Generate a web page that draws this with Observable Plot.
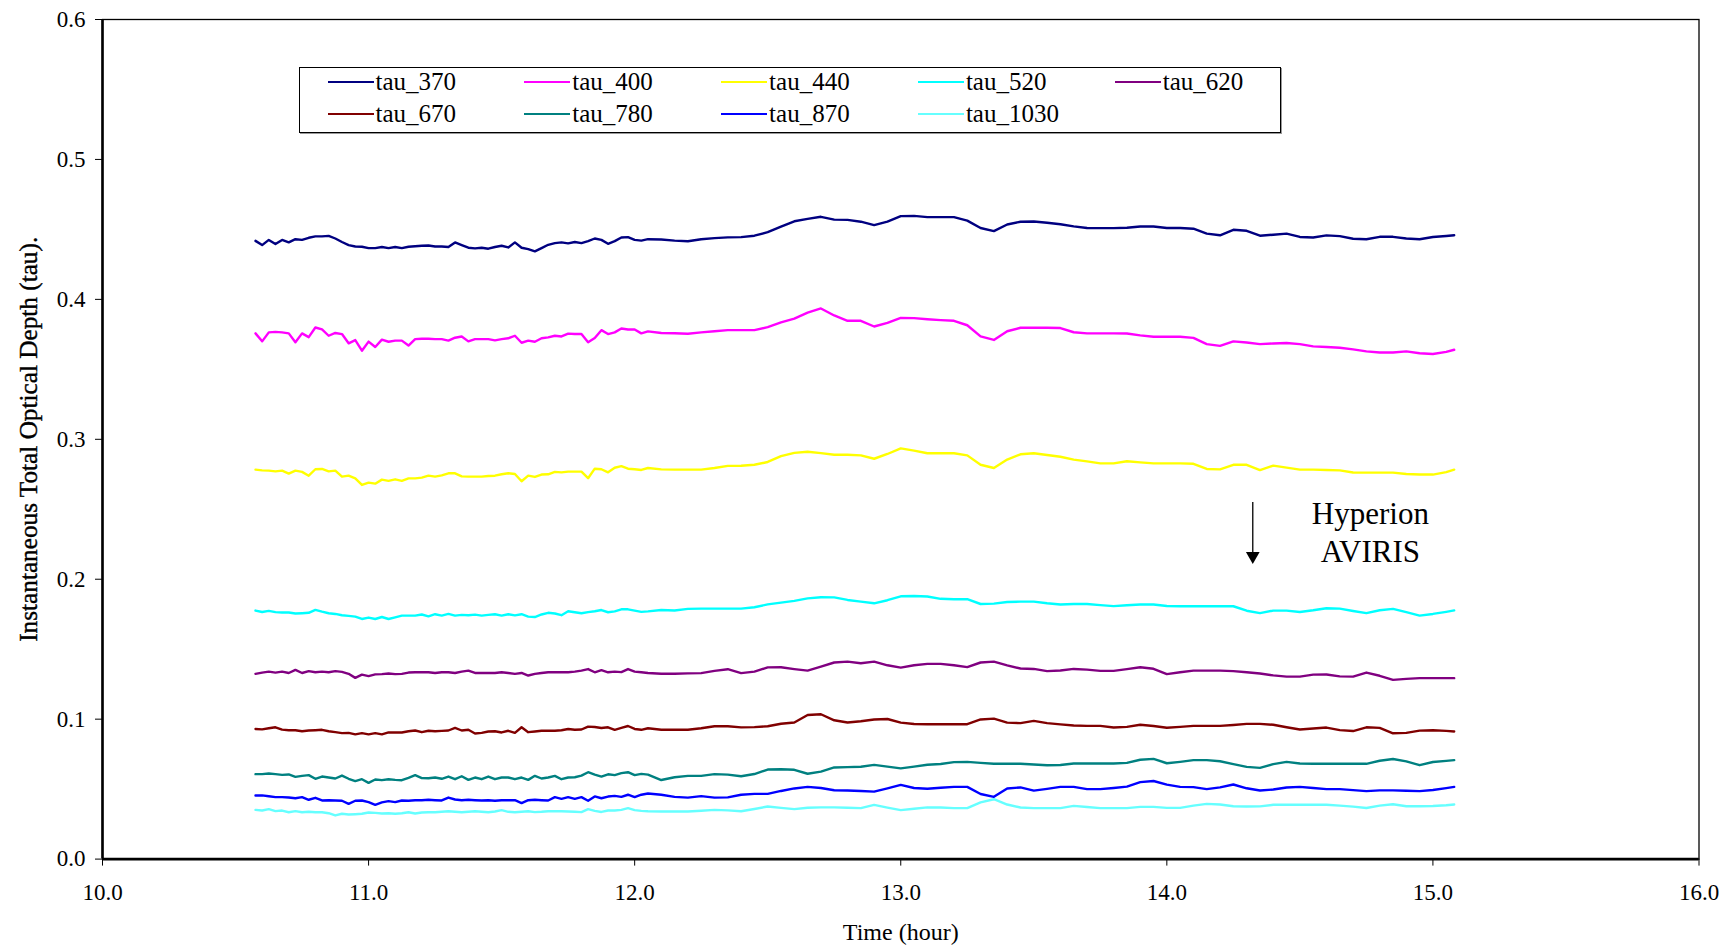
<!DOCTYPE html>
<html><head><meta charset="utf-8">
<script src="https://cdn.jsdelivr.net/npm/d3@7"></script>
<script src="https://cdn.jsdelivr.net/npm/@observablehq/plot@0.6"></script>
<style>
body{margin:0;background:#fff;}
#wrap{position:relative;width:1735px;height:948px;overflow:hidden;}
#legend{position:absolute;left:299px;top:67px;width:980px;height:64px;border:1px solid #000;box-shadow:1px 1px 0 #999;background:#fff;font-family:"Liberation Serif";font-size:25px;color:#000;}
.item{position:absolute;display:flex;align-items:center;height:30px;white-space:nowrap;}
.sw{width:46px;height:2px;margin-right:2px;}
</style></head><body>
<div id="wrap"><div id="chart"></div><div id="legend"></div></div>
<script>
// ---------- data ----------
const tNoisy = [10.575,10.600,10.625,10.650,10.675,10.700,10.725,10.750,10.775,10.800,10.825,10.850,10.875,10.900,10.925,10.950,10.975,11.000,11.025,11.050,11.075,11.100,11.125,11.150,11.175,11.200,11.225,11.250,11.275,11.300,11.325,11.350,11.375,11.400,11.425,11.450,11.475,11.500,11.525,11.550,11.575,11.600,11.625,11.650,11.675,11.700,11.725,11.750,11.775,11.800,11.825,11.850,11.875,11.900,11.925,11.950,11.975,12.000,12.025,12.050];
const tSmooth = [12.10,12.15,12.20,12.25,12.30,12.35,12.40,12.45,12.50,12.55,12.60,12.65,12.70,12.75,12.80,12.85,12.90,12.95,13.00,13.05,13.10,13.15,13.20,13.25,13.30,13.35,13.40,13.45,13.50,13.55,13.60,13.65,13.70,13.75,13.80,13.85,13.90,13.95,14.00,14.05,14.10,14.15,14.20,14.25,14.30,14.35,14.40,14.45,14.50,14.55,14.60,14.65,14.70,14.75,14.80,14.85,14.90,14.95,15.00,15.05,15.08];

const tau_370 = [0.4418,0.4388,0.4425,0.4395,0.4425,0.4407,0.4430,0.4425,0.4440,0.4450,0.4450,0.4454,0.4435,0.4410,0.4388,0.4378,0.4376,0.4366,0.4366,0.4374,0.4366,0.4374,0.4366,0.4376,0.4380,0.4383,0.4385,0.4378,0.4378,0.4374,0.4407,0.4388,0.4369,0.4364,0.4369,0.4362,0.4374,0.4383,0.4371,0.4407,0.4369,0.4359,0.4343,0.4366,0.4390,0.4402,0.4407,0.4400,0.4410,0.4402,0.4416,0.4435,0.4425,0.4397,0.4416,0.4442,0.4445,0.4425,0.4420,0.4430,
0.4428,0.4420,0.4415,0.4430,0.4438,0.4443,0.4445,0.4455,0.4480,0.4520,0.4558,0.4575,0.4590,0.4570,0.4568,0.4555,0.4531,0.4556,0.4595,0.4597,0.4588,0.4588,0.4588,0.4563,0.4510,0.4488,0.4535,0.4555,0.4556,0.4548,0.4537,0.4522,0.4510,0.4509,0.4509,0.4512,0.4521,0.4521,0.4510,0.4510,0.4505,0.4470,0.4458,0.4497,0.4490,0.4455,0.4462,0.4470,0.4446,0.4442,0.4457,0.4452,0.4433,0.4430,0.4447,0.4447,0.4435,0.4430,0.4446,0.4453,0.4458];
const tau_400 = [0.3757,0.3700,0.3764,0.3768,0.3764,0.3757,0.3693,0.3757,0.3730,0.3799,0.3785,0.3740,0.3760,0.3752,0.3686,0.3709,0.3633,0.3698,0.3660,0.3712,0.3697,0.3705,0.3705,0.3670,0.3716,0.3719,0.3719,0.3716,0.3716,0.3705,0.3726,0.3735,0.3700,0.3716,0.3716,0.3716,0.3707,0.3716,0.3722,0.3740,0.3690,0.3705,0.3697,0.3722,0.3728,0.3740,0.3735,0.3755,0.3752,0.3752,0.3693,0.3724,0.3780,0.3752,0.3764,0.3792,0.3785,0.3785,0.3757,0.3771,
0.3760,0.3758,0.3754,0.3764,0.3772,0.3780,0.3780,0.3780,0.3802,0.3835,0.3862,0.3905,0.3935,0.3885,0.3847,0.3847,0.3806,0.3832,0.3868,0.3866,0.3858,0.3852,0.3847,0.3815,0.3735,0.3710,0.3772,0.3797,0.3797,0.3797,0.3795,0.3765,0.3757,0.3757,0.3757,0.3756,0.3743,0.3733,0.3733,0.3733,0.3725,0.3680,0.3668,0.3700,0.3692,0.3680,0.3685,0.3688,0.3680,0.3664,0.3660,0.3654,0.3643,0.3628,0.3620,0.3620,0.3628,0.3615,0.3610,0.3625,0.3640];
const tau_440 = [0.2783,0.2778,0.2776,0.2771,0.2776,0.2755,0.2776,0.2767,0.2740,0.2786,0.2788,0.2771,0.2776,0.2733,0.2740,0.2721,0.2674,0.2690,0.2683,0.2712,0.2703,0.2714,0.2703,0.2721,0.2721,0.2726,0.2740,0.2733,0.2742,0.2757,0.2757,0.2735,0.2733,0.2733,0.2733,0.2738,0.2740,0.2750,0.2757,0.2752,0.2700,0.2740,0.2731,0.2748,0.2750,0.2767,0.2764,0.2769,0.2769,0.2769,0.2722,0.2790,0.2786,0.2764,0.2797,0.2808,0.2790,0.2786,0.2781,0.2795,
0.2785,0.2783,0.2783,0.2783,0.2795,0.2810,0.2811,0.2818,0.2838,0.2880,0.2903,0.2911,0.2901,0.2890,0.2890,0.2885,0.2861,0.2895,0.2935,0.2919,0.2900,0.2900,0.2900,0.2885,0.2818,0.2795,0.2855,0.2893,0.2900,0.2888,0.2875,0.2855,0.2842,0.2828,0.2828,0.2843,0.2835,0.2828,0.2828,0.2828,0.2825,0.2788,0.2785,0.2818,0.2818,0.2780,0.2812,0.2798,0.2783,0.2783,0.2781,0.2778,0.2763,0.2762,0.2762,0.2762,0.2752,0.2748,0.2748,0.2765,0.2783];
const tau_520 = [0.1776,0.1766,0.1774,0.1765,0.1762,0.1762,0.1755,0.1757,0.1760,0.1781,0.1768,0.1757,0.1752,0.1743,0.1738,0.1733,0.1716,0.1726,0.1716,0.1730,0.1716,0.1728,0.1740,0.1740,0.1740,0.1748,0.1735,0.1750,0.1740,0.1752,0.1740,0.1745,0.1743,0.1747,0.1740,0.1745,0.1750,0.1740,0.1750,0.1742,0.1750,0.1733,0.1730,0.1748,0.1760,0.1755,0.1743,0.1771,0.1764,0.1757,0.1765,0.1771,0.1780,0.1764,0.1770,0.1785,0.1785,0.1776,0.1767,0.1770,
0.1780,0.1777,0.1788,0.1790,0.1790,0.1790,0.1790,0.1800,0.1820,0.1833,0.1845,0.1863,0.1871,0.1870,0.1852,0.1840,0.1828,0.1850,0.1878,0.1880,0.1877,0.1860,0.1857,0.1857,0.1823,0.1826,0.1837,0.1840,0.1840,0.1828,0.1819,0.1823,0.1823,0.1815,0.1808,0.1814,0.1819,0.1819,0.1809,0.1807,0.1807,0.1807,0.1807,0.1807,0.1775,0.1758,0.1776,0.1776,0.1766,0.1778,0.1793,0.1790,0.1773,0.1758,0.1778,0.1788,0.1765,0.1740,0.1752,0.1767,0.1777];
const tau_620 = [0.1324,0.1333,0.1340,0.1333,0.1340,0.1330,0.1352,0.1330,0.1343,0.1335,0.1340,0.1335,0.1343,0.1338,0.1324,0.1295,0.1318,0.1308,0.1320,0.1322,0.1326,0.1322,0.1324,0.1333,0.1335,0.1335,0.1335,0.1330,0.1335,0.1335,0.1330,0.1340,0.1347,0.1330,0.1330,0.1330,0.1330,0.1335,0.1330,0.1324,0.1330,0.1312,0.1324,0.1330,0.1335,0.1335,0.1335,0.1335,0.1340,0.1347,0.1358,0.1335,0.1350,0.1335,0.1340,0.1336,0.1358,0.1340,0.1335,0.1330,
0.1325,0.1325,0.1327,0.1329,0.1345,0.1357,0.1329,0.1340,0.1370,0.1371,0.1358,0.1347,0.1375,0.1405,0.1411,0.1400,0.1411,0.1385,0.1368,0.1385,0.1395,0.1395,0.1385,0.1372,0.1405,0.1411,0.1385,0.1362,0.1359,0.1343,0.1348,0.1359,0.1354,0.1345,0.1345,0.1358,0.1371,0.1360,0.1322,0.1335,0.1347,0.1347,0.1347,0.1343,0.1335,0.1326,0.1313,0.1304,0.1304,0.1318,0.1319,0.1306,0.1304,0.1333,0.1310,0.1281,0.1288,0.1293,0.1293,0.1293,0.1293];
const tau_670 = [0.0930,0.0927,0.0935,0.0942,0.0925,0.0921,0.0921,0.0914,0.0919,0.0921,0.0924,0.0914,0.0907,0.0900,0.0902,0.0891,0.0900,0.0891,0.0900,0.0891,0.0905,0.0905,0.0905,0.0914,0.0919,0.0907,0.0917,0.0914,0.0916,0.0919,0.0938,0.0919,0.0924,0.0898,0.0902,0.0912,0.0914,0.0905,0.0917,0.0902,0.0942,0.0907,0.0912,0.0917,0.0917,0.0917,0.0921,0.0930,0.0924,0.0926,0.0947,0.0944,0.0937,0.0942,0.0924,0.0938,0.0951,0.0930,0.0924,0.0935,
0.0924,0.0924,0.0924,0.0935,0.0949,0.0949,0.0941,0.0943,0.0949,0.0967,0.0976,0.1030,0.1035,0.0992,0.0976,0.0985,0.0998,0.1001,0.0975,0.0965,0.0964,0.0964,0.0964,0.0964,0.0998,0.1004,0.0975,0.0972,0.0988,0.0972,0.0963,0.0955,0.0952,0.0952,0.0940,0.0945,0.0960,0.0951,0.0939,0.0945,0.0952,0.0952,0.0952,0.0958,0.0966,0.0966,0.0960,0.0942,0.0926,0.0933,0.0940,0.0922,0.0915,0.0942,0.0938,0.0899,0.0902,0.0918,0.0921,0.0916,0.0912];
const tau_780 = [0.0607,0.0607,0.0612,0.0607,0.0602,0.0605,0.0588,0.0595,0.0600,0.0574,0.0590,0.0583,0.0576,0.0597,0.0574,0.0557,0.0571,0.0545,0.0569,0.0564,0.0571,0.0566,0.0564,0.0581,0.0600,0.0579,0.0578,0.0583,0.0574,0.0590,0.0571,0.0592,0.0566,0.0583,0.0571,0.0590,0.0571,0.0583,0.0583,0.0571,0.0583,0.0566,0.0595,0.0576,0.0583,0.0595,0.0571,0.0583,0.0585,0.0597,0.0621,0.0604,0.0590,0.0606,0.0600,0.0614,0.0621,0.0600,0.0609,0.0604,
0.0565,0.0585,0.0595,0.0595,0.0607,0.0604,0.0592,0.0608,0.0640,0.0642,0.0638,0.0610,0.0625,0.0655,0.0657,0.0660,0.0673,0.0661,0.0648,0.0661,0.0674,0.0680,0.0693,0.0695,0.0688,0.0681,0.0681,0.0681,0.0676,0.0671,0.0672,0.0683,0.0683,0.0683,0.0683,0.0688,0.0710,0.0716,0.0685,0.0695,0.0707,0.0707,0.0699,0.0679,0.0659,0.0652,0.0679,0.0695,0.0683,0.0681,0.0681,0.0681,0.0681,0.0681,0.0703,0.0715,0.0698,0.0671,0.0694,0.0702,0.0707];
const tau_870 = [0.0455,0.0455,0.0449,0.0443,0.0443,0.0440,0.0435,0.0443,0.0424,0.0438,0.0419,0.0421,0.0419,0.0417,0.0395,0.0417,0.0419,0.0407,0.0388,0.0405,0.0414,0.0407,0.0419,0.0417,0.0421,0.0421,0.0424,0.0421,0.0419,0.0440,0.0426,0.0421,0.0424,0.0421,0.0419,0.0421,0.0417,0.0421,0.0421,0.0421,0.0400,0.0421,0.0424,0.0421,0.0419,0.0443,0.0431,0.0443,0.0431,0.0443,0.0417,0.0448,0.0435,0.0447,0.0452,0.0445,0.0460,0.0443,0.0460,0.0469,
0.0460,0.0445,0.0439,0.0450,0.0439,0.0441,0.0460,0.0466,0.0466,0.0487,0.0505,0.0516,0.0508,0.0492,0.0490,0.0487,0.0482,0.0505,0.0530,0.0508,0.0503,0.0510,0.0516,0.0516,0.0465,0.0445,0.0505,0.0512,0.0489,0.0502,0.0516,0.0516,0.0500,0.0500,0.0508,0.0518,0.0550,0.0558,0.0532,0.0516,0.0514,0.0500,0.0513,0.0533,0.0506,0.0490,0.0497,0.0512,0.0516,0.0508,0.0500,0.0500,0.0493,0.0486,0.0491,0.0491,0.0488,0.0486,0.0494,0.0507,0.0516];
const tau_1030 = [0.0352,0.0347,0.0357,0.0343,0.0347,0.0335,0.0343,0.0335,0.0338,0.0335,0.0335,0.0328,0.0312,0.0324,0.0319,0.0321,0.0324,0.0333,0.0330,0.0326,0.0328,0.0324,0.0328,0.0335,0.0326,0.0333,0.0335,0.0335,0.0338,0.0342,0.0338,0.0335,0.0338,0.0342,0.0338,0.0335,0.0340,0.0350,0.0338,0.0335,0.0338,0.0342,0.0336,0.0338,0.0342,0.0342,0.0342,0.0340,0.0338,0.0336,0.0357,0.0345,0.0337,0.0347,0.0347,0.0352,0.0364,0.0350,0.0345,0.0342,
0.0340,0.0340,0.0340,0.0345,0.0352,0.0348,0.0342,0.0358,0.0376,0.0366,0.0357,0.0367,0.0370,0.0370,0.0367,0.0364,0.0387,0.0368,0.0350,0.0360,0.0370,0.0369,0.0364,0.0364,0.0405,0.0428,0.0390,0.0369,0.0364,0.0364,0.0364,0.0380,0.0372,0.0364,0.0364,0.0364,0.0373,0.0373,0.0366,0.0366,0.0382,0.0395,0.0390,0.0378,0.0376,0.0377,0.0388,0.0388,0.0388,0.0388,0.0388,0.0382,0.0375,0.0365,0.0382,0.0392,0.0378,0.0378,0.0379,0.0385,0.0390];

const seriesNames = ["tau_370","tau_400","tau_440","tau_520","tau_620","tau_670","tau_780","tau_870","tau_1030"];
const seriesColors = ["#000080","#FF00FF","#FFFF00","#00FFFF","#800080","#800000","#008080","#0000FF","#66FFFF"];
const seriesValues = [tau_370,tau_400,tau_440,tau_520,tau_620,tau_670,tau_780,tau_870,tau_1030];

const xTicks = [10,11,12,13,14,15,16];
const yTicks = [0,0.1,0.2,0.3,0.4,0.5,0.6];
const xTitle = "Time (hour)";
const yTitle = "Instantaneous Total Optical Depth (tau).";
const noteText = ["Hyperion","AVIRIS"];
const noteX = 14.765;
const noteY = [0.2467, 0.2194];
const arrowX = 14.323, arrowFrom = 0.2549, arrowHead = 0.2166;

// ---------- build ----------
const times = tNoisy.concat(tSmooth);
const rows = [];
seriesNames.forEach((name, k) => seriesValues[k].forEach((v, i) => rows.push({name, t: times[i], v})));
const arrow = [{x: arrowX, y1: arrowFrom, y2: arrowHead}];
const notes = noteText.map((s, i) => ({s, x: noteX, y: noteY[i]}));

const chart = Plot.plot({
  width: 1735, height: 948,
  marginLeft: 102, marginRight: 36.5, marginTop: 19, marginBottom: 89.4,
  style: {fontFamily: "Liberation Serif", fontSize: "23px", color: "#000", background: "#fff", overflow: "visible"},
  x: {domain: [10, 16], ticks: xTicks, tickFormat: d3.format(".1f"), tickSize: 7, tickPadding: 18, label: null},
  y: {domain: [0, 0.6], ticks: yTicks, tickFormat: d3.format(".1f"), tickSize: 7, tickPadding: 10, label: null},
  color: {domain: seriesNames, range: seriesColors},
  marks: [
    Plot.frame({stroke: "#000", strokeWidth: 1.3}),
    Plot.line(rows, {x: "t", y: "v", z: "name", stroke: "name", strokeWidth: 2.4}),
    Plot.ruleX([10], {stroke: "#000", strokeWidth: 2.6}),
    Plot.ruleY([0], {stroke: "#000", strokeWidth: 2.6}),
    Plot.ruleX(arrow, {x: "x", y1: "y1", y2: "y2", stroke: "#000", strokeWidth: 1.3}),
    Plot.dot(arrow, {x: "x", y: "y2", symbol: "triangle", r: 5.1, fill: "#000", stroke: null, rotate: 180}),
    Plot.text(notes, {x: "x", y: "y", text: "s", fontSize: 31, fill: "#000"}),
    Plot.text([yTitle], {frameAnchor: "left", textAnchor: "middle", dx: -74, rotate: -90, fontSize: 26, text: d => d, fill: "#000"}),
    Plot.text([xTitle], {frameAnchor: "bottom", textAnchor: "middle", dy: 81, fontSize: 24, text: d => d, fill: "#000"})
  ]
});
document.getElementById("chart").appendChild(chart);
d3.select(chart).selectAll("text").filter(function(){ return this.textContent === yTitle; })
  .attr("textLength", 405).attr("lengthAdjust", "spacingAndGlyphs")
  .attr("stroke", "#000").attr("stroke-width", 0.4);

// ---------- legend ----------
const legend = document.getElementById("legend");
seriesNames.forEach((name, k) => {
  const col = k % 5, row = Math.floor(k / 5);
  const it = document.createElement("div");
  it.className = "item";
  it.style.left = (27.5 + col * 196.8) + "px";
  it.style.top = (-1 + row * 32) + "px";
  const sw = document.createElement("div");
  sw.className = "sw"; sw.style.background = seriesColors[k];
  const lb = document.createElement("span");
  lb.textContent = name;
  it.appendChild(sw); it.appendChild(lb);
  legend.appendChild(it);
});
</script>
</body></html>
